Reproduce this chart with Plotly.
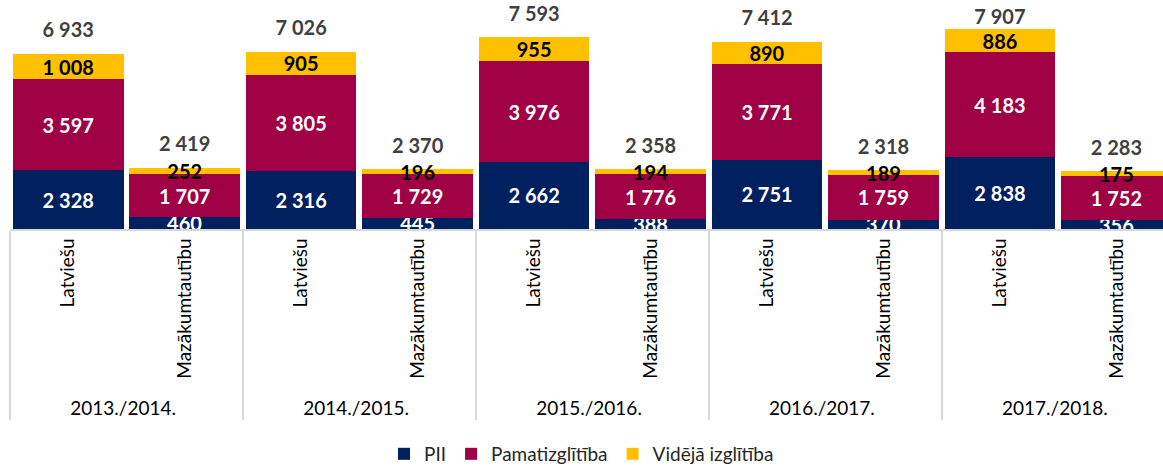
import plotly.graph_objects as go

years = ["2013./2014.", "2014./2015.", "2015./2016.", "2016./2017.", "2017./2018."]
langs = ["Latviešu", "Mazākumtautību"]

# values per bar, order: year1 Latv, year1 Maz, year2 Latv, ...
pii = [2328, 460, 2316, 445, 2662, 388, 2751, 370, 2838, 356]
pamat = [3597, 1707, 3805, 1729, 3976, 1776, 3771, 1759, 4183, 1752]
videja = [1008, 252, 905, 196, 955, 194, 890, 189, 886, 175]
totals = [6933, 2419, 7026, 2370, 7593, 2358, 7412, 2318, 7907, 2283]


def fmt(v):
    return f"{v:,}".replace(",", " ")


x_years = [y for y in years for _ in langs]
x_langs = [l for _ in years for l in langs]
x = [x_years, x_langs]

FONT = "Lato"
YMAX = 9073
fig = go.Figure()

series = [
    ("PII", pii, "#002060", "white"),
    ("Pamatizglītība", pamat, "#A00044", "white"),
    ("Vidējā izglītība", videja, "#FFC000", "black"),
]
for name, vals, color, tcolor in series:
    fig.add_trace(
        go.Bar(
            x=x,
            y=vals,
            name=name,
            marker=dict(color=color, line=dict(width=0)),
            text=[fmt(v) for v in vals],
            textposition="inside",
            insidetextanchor="middle",
            constraintext="none",
            textangle=0,
            cliponaxis=False,
            textfont=dict(family=FONT, size=20, color=tcolor, weight="bold"),
        )
    )

# total labels sit above the bars, but stay inside the plot area near the top
fig.add_trace(
    go.Scatter(
        x=x,
        y=totals,
        mode="markers+text",
        marker=dict(size=[17 if t < 0.85 * YMAX else 0 for t in totals],
                    opacity=0, line=dict(width=0)),
        text=[fmt(v) for v in totals],
        textposition="top center",
        textfont=dict(family=FONT, size=20, color="#404040", weight="bold"),
        showlegend=False,
        hoverinfo="skip",
        cliponaxis=False,
    )
)

fig.update_layout(
    barmode="stack",
    bargap=0.05,
    width=1163,
    height=468,
    margin=dict(l=10, r=0, t=0, b=239, autoexpand=False),
    plot_bgcolor="white",
    paper_bgcolor="white",
    font=dict(family=FONT, size=18, color="black"),
    legend=dict(
        orientation="h",
        x=0.5,
        xanchor="center",
        xref="container",
        y=0.03,
        yanchor="middle",
        yref="container",
        font=dict(size=19, color="#262626"),
        traceorder="normal",
    ),
)
fig.update_xaxes(
    type="multicategory",
    range=[-0.5, 9.4],
    automargin=False,
    tickangle=-90,
    showline=True,
    linecolor="#d9d9d9",
    linewidth=1.5,
    showdividers=True,
    dividercolor="#d9d9d9",
    dividerwidth=1.5,
    ticks="",
    tickfont=dict(family=FONT, size=19, color="black"),
)
fig.update_yaxes(
    range=[0, YMAX],
    visible=False,
    automargin=False,
    showgrid=False,
    zeroline=False,
)

# drop the default page margin so the figure sits at the window's corner
fig.write_html(
    "out.html",
    config={"displayModeBar": False},
    post_script="document.body.style.margin = '0';",
)
